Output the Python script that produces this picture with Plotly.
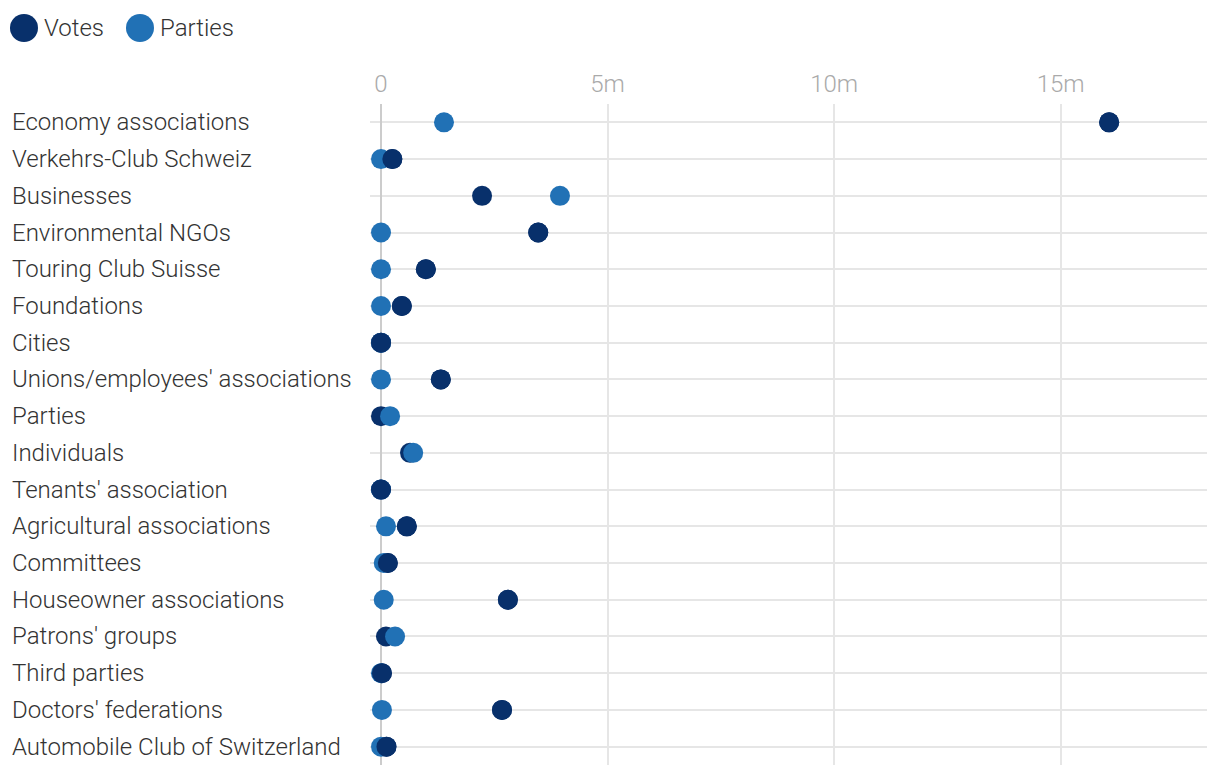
import plotly.graph_objects as go

categories = [
    "Economy associations", "Verkehrs-Club Schweiz", "Businesses", "Environmental NGOs",
    "Touring Club Suisse", "Foundations", "Cities", "Unions/employees' associations",
    "Parties", "Individuals", "Tenants' association", "Agricultural associations",
    "Committees", "Houseowner associations", "Patrons' groups", "Third parties",
    "Doctors' federations", "Automobile Club of Switzerland",
]
votes = [16.07, 0.25, 2.23, 3.47, 0.99, 0.46, 0.0, 1.32, 0.0, 0.64, 0.0, 0.57,
         0.15, 2.80, 0.11, 0.02, 2.67, 0.12]
parties = [1.39, 0.0, 3.95, 0.0, 0.0, 0.0, 0.0, 0.0, 0.20, 0.71, 0.0, 0.11,
           0.06, 0.06, 0.31, 0.0, 0.02, 0.0]
votes = [v * 1e6 for v in votes]
parties = [p * 1e6 for p in parties]

tick_vals = [0, 5e6, 10e6, 15e6]
tick_text = ["0", "5m", "10m", "15m"]

C_VOTES = "#08306b"
C_PARTIES = "#2171b5"
FONT = "Roboto, sans-serif"
FS = 24

fig = go.Figure()
fig.add_trace(go.Scatter(x=votes, y=categories, mode="markers", name="Votes",
                         marker=dict(size=20, color=C_VOTES), cliponaxis=False))
fig.add_trace(go.Scatter(x=parties, y=categories, mode="markers", name="Parties",
                         marker=dict(size=20, color=C_PARTIES), cliponaxis=False))
# votes that are larger/equal get drawn on top
top_x = [v for v, p in zip(votes, parties) if v >= p]
top_y = [c for c, v, p in zip(categories, votes, parties) if v >= p]
fig.add_trace(go.Scatter(x=top_x, y=top_y, mode="markers", name="Votes", showlegend=False,
                         marker=dict(size=20, color=C_VOTES), cliponaxis=False))

OFF = 8  # page body offset
W, H = 1220, 772
L, R = 370 - OFF, 1207 - OFF
T, B = 104 - OFF, 765 - OFF
plot_w = R - L
plot_h = B - T

fig.update_layout(
    width=W, height=H,
    margin=dict(l=L, r=W - R, t=T, b=H - B),
    paper_bgcolor="white", plot_bgcolor="white",
    showlegend=False,
    font=dict(family=FONT, size=FS, color="#333333", weight=300),
    xaxis=dict(
        side="top", range=[-0.243e6, 18.23e6],
        tickvals=tick_vals, ticktext=tick_text,
        tickfont=dict(family=FONT, size=FS, color="#aaaaaa", weight=300),
        showgrid=True, gridcolor="#e6e6e6", gridwidth=2,
        zeroline=True, zerolinecolor="#cccccc", zerolinewidth=2,
        showline=False, ticks="", ticklabelstandoff=6, fixedrange=True,
    ),
    yaxis=dict(
        type="category", categoryorder="array", categoryarray=categories,
        range=[len(categories) - 0.5, -0.5],
        showgrid=True, gridcolor="#e6e6e6", gridwidth=2,
        showticklabels=False, zeroline=False, showline=False, ticks="", fixedrange=True,
    ),
)

# left-aligned category labels
for c in categories:
    fig.add_annotation(x=(10 - OFF - L) / plot_w, xref="paper", y=c, yref="y",
                       text=c, showarrow=False, xanchor="left", yanchor="middle",
                       font=dict(family=FONT, size=FS, color="#333333", weight=300))

# legend drawn manually
legend_items = [("Votes", C_VOTES, 24, 42), ("Parties", C_PARTIES, 140, 158)]
for name, col, cx, tx in legend_items:
    r = 14
    cx -= OFF
    tx -= OFF
    cy = 28 - OFF
    fig.add_shape(type="circle", xref="paper", yref="paper",
                  x0=(cx - r - L) / plot_w, x1=(cx + r - L) / plot_w,
                  y0=(B - (cy + r)) / plot_h, y1=(B - (cy - r)) / plot_h,
                  fillcolor=col, line=dict(width=0))
    fig.add_annotation(x=(tx - L) / plot_w, xref="paper", y=(B - cy) / plot_h, yref="paper",
                       text=name, showarrow=False, xanchor="left", yanchor="middle",
                       font=dict(family=FONT, size=FS, color="#333333", weight=300))

fig.write_html("out.html")
